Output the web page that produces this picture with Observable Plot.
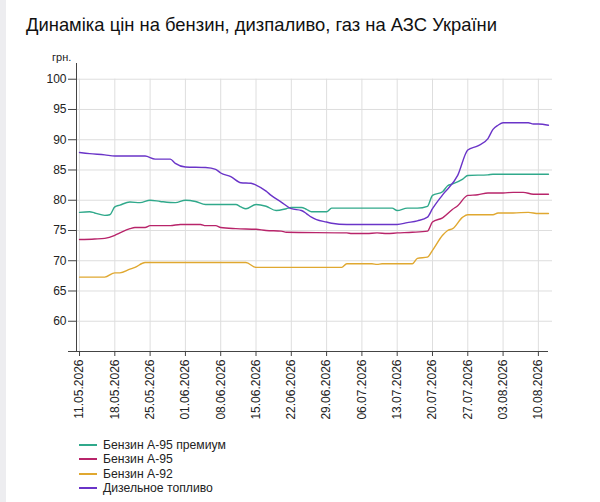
<!DOCTYPE html>
<html><head><meta charset="utf-8">
<script src="https://cdn.jsdelivr.net/npm/d3@7"></script>
<script src="https://cdn.jsdelivr.net/npm/@observablehq/plot@0.6"></script>
<style>
body{margin:0;width:600px;height:502px;position:relative;background:#fff;font-family:"Liberation Sans",Arial,sans-serif;overflow:hidden;color:#111}
#strip{position:absolute;left:0;top:0;width:6px;height:502px;background:#ededf0}
#title{position:absolute;left:26px;top:14px;font-size:18.4px;white-space:nowrap}
#unit{position:absolute;left:52px;top:51px;font-size:11px;color:#222}
#chart{position:absolute;left:0;top:40px}
#legend{position:absolute;left:79px;top:438px;font-size:12.2px;color:#222}
.row{display:flex;align-items:center;height:14.3px;white-space:nowrap}
.sw{width:18px;height:2px;margin-right:6px}
</style></head>
<body>
<div id="strip"></div>
<div id="title">Динаміка цін на бензин, дизпаливо, газ на АЗС України</div>
<div id="unit">грн.</div>
<div id="chart"></div>
<div id="legend"></div>
<script>
const seriesNames = ["Бензин А-95 премиум", "Бензин А-95", "Бензин А-92", "Дизельное топливо"];
const seriesColors = ["#30a98b", "#b8246a", "#e0a830", "#6a34c8"];

const premiumDates = ["2026-05-11","2026-05-13","2026-05-14","2026-05-16","2026-05-17","2026-05-18","2026-05-19","2026-05-21","2026-05-23","2026-05-25","2026-05-27","2026-05-30","2026-06-01","2026-06-03","2026-06-05","2026-06-11","2026-06-12","2026-06-13","2026-06-15","2026-06-17","2026-06-19","2026-06-21","2026-06-22","2026-06-24","2026-06-25","2026-06-26","2026-06-29","2026-06-30","2026-07-12","2026-07-13","2026-07-15","2026-07-17","2026-07-19","2026-07-20","2026-07-22","2026-07-23","2026-07-24","2026-07-26","2026-07-27","2026-07-31","2026-08-01","2026-08-12"];
const premiumValues = [78.0,78.1,77.9,77.5,77.6,78.9,79.2,79.7,79.6,80.0,79.8,79.6,80.0,79.8,79.3,79.3,78.9,78.6,79.3,79.0,78.3,78.6,78.8,78.8,78.5,78.1,78.1,78.7,78.7,78.3,78.7,78.7,79.0,80.8,81.4,82.4,82.7,83.5,84.1,84.2,84.3,84.3];

const a95Dates = ["2026-05-11","2026-05-14","2026-05-16","2026-05-18","2026-05-19","2026-05-21","2026-05-22","2026-05-24","2026-05-25","2026-05-29","2026-05-31","2026-06-04","2026-06-05","2026-06-07","2026-06-08","2026-06-11","2026-06-15","2026-06-17","2026-06-20","2026-06-21","2026-07-03","2026-07-04","2026-07-07","2026-07-09","2026-07-11","2026-07-13","2026-07-16","2026-07-19","2026-07-20","2026-07-22","2026-07-24","2026-07-25","2026-07-27","2026-07-29","2026-07-31","2026-08-03","2026-08-05","2026-08-07","2026-08-09","2026-08-12"];
const a95Values = [73.5,73.6,73.7,74.2,74.6,75.3,75.5,75.5,75.8,75.8,76.0,76.0,75.8,75.8,75.5,75.3,75.2,75.0,74.9,74.7,74.6,74.5,74.5,74.6,74.5,74.6,74.7,74.9,76.4,77.1,78.5,79.1,80.8,80.9,81.2,81.2,81.3,81.3,81.0,81.0];

const a92Dates = ["2026-05-11","2026-05-16","2026-05-18","2026-05-19","2026-05-21","2026-05-22","2026-05-24","2026-06-13","2026-06-15","2026-07-02","2026-07-03","2026-07-08","2026-07-09","2026-07-10","2026-07-16","2026-07-17","2026-07-19","2026-07-20","2026-07-22","2026-07-23","2026-07-24","2026-07-26","2026-07-27","2026-08-01","2026-08-02","2026-08-05","2026-08-08","2026-08-10","2026-08-12"];
const a92Values = [67.3,67.3,68.0,68.0,68.6,68.9,69.7,69.7,68.9,68.9,69.5,69.5,69.4,69.5,69.5,70.4,70.6,71.7,74.2,75.0,75.3,77.2,77.6,77.6,77.9,77.9,78.0,77.8,77.8];

const dieselDates = ["2026-05-11","2026-05-13","2026-05-16","2026-05-18","2026-05-24","2026-05-26","2026-05-29","2026-05-30","2026-06-01","2026-06-05","2026-06-07","2026-06-08","2026-06-10","2026-06-12","2026-06-14","2026-06-15","2026-06-17","2026-06-18","2026-06-20","2026-06-22","2026-06-24","2026-06-25","2026-06-26","2026-06-27","2026-06-29","2026-06-30","2026-07-03","2026-07-13","2026-07-15","2026-07-17","2026-07-19","2026-07-20","2026-07-22","2026-07-25","2026-07-27","2026-07-29","2026-07-31","2026-08-01","2026-08-02","2026-08-03","2026-08-08","2026-08-09","2026-08-10","2026-08-12"];
const dieselValues = [87.9,87.7,87.5,87.3,87.3,86.8,86.8,86.1,85.5,85.4,85.1,84.5,83.9,82.9,82.8,82.5,81.5,80.8,79.7,78.6,78.3,77.8,77.2,76.8,76.4,76.2,76.0,76.0,76.3,76.6,77.2,78.6,80.9,84.1,88.3,89.0,90.2,91.7,92.4,92.8,92.8,92.6,92.6,92.4];

const tickLabels = ["11.05.2026","18.05.2026","25.05.2026","01.06.2026","08.06.2026","15.06.2026","22.06.2026","29.06.2026","06.07.2026","13.07.2026","20.07.2026","27.07.2026","03.08.2026","10.08.2026"];
const yTicks = [60, 65, 70, 75, 80, 85, 90, 95, 100];

const parseISO = d3.utcParse("%Y-%m-%d");
const parseLabel = d3.utcParse("%d.%m.%Y");
const allDates = [premiumDates, a95Dates, a92Dates, dieselDates];
const allValues = [premiumValues, a95Values, a92Values, dieselValues];
const rows = [];
seriesNames.forEach((name, i) => {
  allDates[i].forEach((d, j) => rows.push({series: name, date: parseISO(d), value: allValues[i][j]}));
});
const tickDates = tickLabels.map(parseLabel);
const DAY = 864e5;
const first = tickDates[0];
const xDomain = [new Date(+first - 0.6 * DAY), new Date(+first + 93.8 * DAY)];
const yMin = 55, yMax = 102.6;

const chart = Plot.plot({
  width: 600,
  height: 390,
  marginLeft: 76,
  marginRight: 48,
  marginTop: 23,
  marginBottom: 79,
  style: {fontFamily: "'Liberation Sans', Arial, sans-serif", fontSize: "12px", color: "#222", background: "transparent"},
  x: {type: "utc", domain: xDomain},
  y: {domain: [yMin, yMax]},
  color: {domain: seriesNames, range: seriesColors},
  marks: [
    Plot.ruleY(yTicks, {stroke: "#dedede", strokeWidth: 1}),
    Plot.ruleX(tickDates, {y1: yMin, y2: 100, stroke: "#dedede", strokeWidth: 1}),
    Plot.line(rows, {x: "date", y: "value", z: "series", stroke: "series", curve: "monotone-x", strokeWidth: 1.4}),
    Plot.ruleY([yMin], {stroke: "#444", strokeWidth: 1, insetLeft: -8, insetRight: 4}),
    Plot.frame({anchor: "left", stroke: "#444", strokeWidth: 1}),
    Plot.axisY({ticks: yTicks, tickSize: 8, tickPadding: 2, fontSize: 12, label: null, stroke: "#444"}),
    Plot.axisX({ticks: tickDates, tickFormat: d3.utcFormat("%d.%m.%Y"), tickRotate: -90, tickSize: 5, tickPadding: 3, fontSize: 12, label: null, stroke: "#444"})
  ]
});
document.getElementById("chart").appendChild(chart);

const legend = document.getElementById("legend");
seriesNames.forEach((name, i) => {
  const row = document.createElement("div");
  row.className = "row";
  const sw = document.createElement("span");
  sw.className = "sw";
  sw.style.background = seriesColors[i];
  const t = document.createElement("span");
  t.textContent = name;
  row.appendChild(sw);
  row.appendChild(t);
  legend.appendChild(row);
});
</script>
</body></html>
